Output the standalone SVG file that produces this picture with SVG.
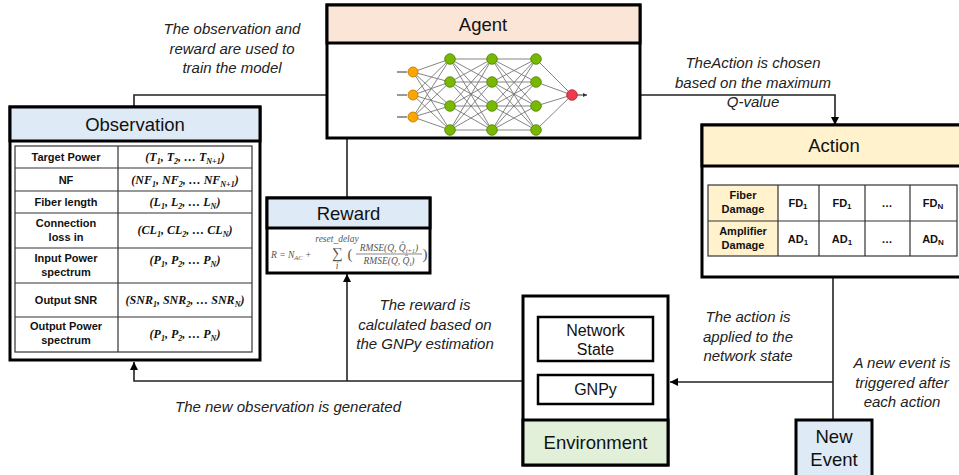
<svg xmlns="http://www.w3.org/2000/svg" width="959" height="475" viewBox="0 0 959 475">
<defs>
<marker id="ah" viewBox="0 0 10 10" refX="10" refY="5" markerWidth="10" markerHeight="8" markerUnits="userSpaceOnUse" orient="auto"><path d="M0,0 L10,5 L0,10 z" fill="#000"/></marker>
<marker id="sah" viewBox="0 0 10 10" refX="10" refY="5" markerWidth="5" markerHeight="4" markerUnits="userSpaceOnUse" orient="auto"><path d="M0,0 L10,5 L0,10 z" fill="#333"/></marker>
</defs>
<style>
.box{fill:#fff;stroke:#000;stroke-width:3}
.lbl{font-family:"Liberation Sans",Arial,sans-serif;font-size:18.5px;fill:#111;text-anchor:middle}
.lbs{font-family:"Liberation Sans",Arial,sans-serif;font-size:16px;fill:#111;text-anchor:middle}
.it{font-family:"Liberation Sans",Arial,sans-serif;font-style:italic;font-size:15px;fill:#222;text-anchor:middle}
.tl{font-family:"Liberation Sans",Arial,sans-serif;font-weight:bold;font-size:11px;fill:#111;text-anchor:middle}
.m{font-family:"Liberation Serif","Times New Roman",serif;font-style:italic;font-weight:bold;font-size:12px;fill:#111;text-anchor:middle}
.s{font-size:8px}
.cell{fill:none;stroke:#333;stroke-width:1.2}
.conn{fill:none;stroke:#222;stroke-width:1.6}
.nn{fill:none;stroke:#777;stroke-width:0.9}
.g{fill:#76b900;stroke:#4f7d00;stroke-width:0.8}
.o{fill:#ffa500;stroke:#b87400;stroke-width:0.8}
.r{fill:#f2384c;stroke:#a8202f;stroke-width:0.8}
.f{font-family:"Liberation Serif","Times New Roman",serif;font-style:italic;font-size:9.5px;fill:#555}
</style>

<g id="connectors">
<path class="conn" d="M134 107 V95 H386" marker-end="url(#ah)"/>
<path class="conn" d="M347 198 V95"/>
<path class="conn" d="M597 95 H835 V125" marker-end="url(#ah)"/>
<path class="conn" d="M833 277 V420" stroke="#444"/>
<path class="conn" d="M833 382 H670" marker-end="url(#ah)"/>
<path class="conn" d="M523 381 H134 V362" marker-end="url(#ah)"/>
<path class="conn" d="M347 381 V274" marker-end="url(#ah)"/>
</g>

<g id="agent">
<rect class="box" x="327" y="5" width="313" height="133"/>
<rect class="box" x="327" y="5" width="313" height="38" style="fill:#fbe5d6"/>
<text class="lbl" x="483" y="31">Agent</text>
<g id="nnet">
<path class="nn" d="M413 72L450 59M413 72L450 82M413 72L450 106M413 72L450 130M413 95L450 59M413 95L450 82M413 95L450 106M413 95L450 130M413 117L450 59M413 117L450 82M413 117L450 106M413 117L450 130
M450 59L492 59M450 59L492 82M450 59L492 106M450 59L492 130M450 82L492 59M450 82L492 82M450 82L492 106M450 82L492 130M450 106L492 59M450 106L492 82M450 106L492 106M450 106L492 130M450 130L492 59M450 130L492 82M450 130L492 106M450 130L492 130
M492 59L536 59M492 59L536 82M492 59L536 106M492 59L536 130M492 82L536 59M492 82L536 82M492 82L536 106M492 82L536 130M492 106L536 59M492 106L536 82M492 106L536 106M492 106L536 130M492 130L536 59M492 130L536 82M492 130L536 106M492 130L536 130
M536 59L572 95M536 82L572 95M536 106L572 95M536 130L572 95"/>
<path d="M397 72H407M397 95H407M397 117H407M577 95H587" stroke="#333" stroke-width="1" marker-end="url(#sah)"/>
<circle class="o" cx="413" cy="72" r="5"/><circle class="o" cx="413" cy="95" r="5"/><circle class="o" cx="413" cy="117" r="5"/>
<circle class="g" cx="450" cy="59" r="5.3"/><circle class="g" cx="450" cy="82" r="5.3"/><circle class="g" cx="450" cy="106" r="5.3"/><circle class="g" cx="450" cy="130" r="5.3"/>
<circle class="g" cx="492" cy="59" r="5.3"/><circle class="g" cx="492" cy="82" r="5.3"/><circle class="g" cx="492" cy="106" r="5.3"/><circle class="g" cx="492" cy="130" r="5.3"/>
<circle class="g" cx="536" cy="59" r="5.3"/><circle class="g" cx="536" cy="82" r="5.3"/><circle class="g" cx="536" cy="106" r="5.3"/><circle class="g" cx="536" cy="130" r="5.3"/>
<circle class="r" cx="572" cy="95" r="5.3"/>
</g>
</g>

<g id="observation">
<rect class="box" x="10" y="107" width="250" height="253"/>
<rect class="box" x="10" y="107" width="250" height="34" style="fill:#deebf7"/>
<text class="lbl" x="135" y="131">Observation</text>
<rect class="cell" x="15" y="146" width="237" height="206"/>
<path class="cell" d="M118 146V352M15 168H252M15 191H252M15 213H252M15 248H252M15 283H252M15 317H252"/>
<text class="tl" x="66" y="161">Target Power</text>
<text class="tl" x="66" y="184">NF</text>
<text class="tl" x="66" y="206">Fiber length</text>
<text class="tl" x="66" y="227">Connection</text><text class="tl" x="66" y="241">loss in</text>
<text class="tl" x="66" y="262">Input Power</text><text class="tl" x="66" y="276">spectrum</text>
<text class="tl" x="66" y="304">Output SNR</text>
<text class="tl" x="66" y="330">Output Power</text><text class="tl" x="66" y="344">spectrum</text>
<text class="m" x="185" y="161">(T<tspan class="s" dy="2.5">1</tspan><tspan dy="-2.5">, T</tspan><tspan class="s" dy="2.5">2</tspan><tspan dy="-2.5">, … T</tspan><tspan class="s" dy="2.5">N+1</tspan><tspan dy="-2.5">)</tspan></text>
<text class="m" x="185" y="184">(NF<tspan class="s" dy="2.5">1</tspan><tspan dy="-2.5">, NF</tspan><tspan class="s" dy="2.5">2</tspan><tspan dy="-2.5">, … NF</tspan><tspan class="s" dy="2.5">N+1</tspan><tspan dy="-2.5">)</tspan></text>
<text class="m" x="185" y="206">(L<tspan class="s" dy="2.5">1</tspan><tspan dy="-2.5">, L</tspan><tspan class="s" dy="2.5">2</tspan><tspan dy="-2.5">, … L</tspan><tspan class="s" dy="2.5">N</tspan><tspan dy="-2.5">)</tspan></text>
<text class="m" x="185" y="234">(CL<tspan class="s" dy="2.5">1</tspan><tspan dy="-2.5">, CL</tspan><tspan class="s" dy="2.5">2</tspan><tspan dy="-2.5">, … CL</tspan><tspan class="s" dy="2.5">N</tspan><tspan dy="-2.5">)</tspan></text>
<text class="m" x="185" y="264">(P<tspan class="s" dy="2.5">1</tspan><tspan dy="-2.5">, P</tspan><tspan class="s" dy="2.5">2</tspan><tspan dy="-2.5">, … P</tspan><tspan class="s" dy="2.5">N</tspan><tspan dy="-2.5">)</tspan></text>
<text class="m" x="185" y="304">(SNR<tspan class="s" dy="2.5">1</tspan><tspan dy="-2.5">, SNR</tspan><tspan class="s" dy="2.5">2</tspan><tspan dy="-2.5">, … SNR</tspan><tspan class="s" dy="2.5">N</tspan><tspan dy="-2.5">)</tspan></text>
<text class="m" x="185" y="338">(P<tspan class="s" dy="2.5">1</tspan><tspan dy="-2.5">, P</tspan><tspan class="s" dy="2.5">2</tspan><tspan dy="-2.5">, … P</tspan><tspan class="s" dy="2.5">N</tspan><tspan dy="-2.5">)</tspan></text>
</g>

<g id="reward">
<rect class="box" x="267" y="198" width="163" height="75"/>
<rect class="box" x="267" y="198" width="163" height="30" style="fill:#deebf7"/>
<text class="lbl" x="348.5" y="220">Reward</text>
<text class="f" x="271" y="258">R = N<tspan font-size="6.5" dy="2">AC</tspan><tspan dy="-2"> +</tspan></text>
<text x="337" y="258" font-family="Liberation Serif,serif" font-size="15" fill="#555" text-anchor="middle">∑</text>
<text class="f" x="337" y="242" font-size="5.5" text-anchor="middle">reset_delay</text>
<text class="f" x="337" y="269" font-size="5.5" text-anchor="middle">i</text>
<text x="350" y="259" font-family="Liberation Serif,serif" font-size="15" fill="#555" text-anchor="middle">(</text>
<text class="f" x="389" y="251" text-anchor="middle">RMSE(Q, Q̂<tspan font-size="6.5" dy="2">i+1</tspan><tspan dy="-2">)</tspan></text>
<line x1="356" y1="254" x2="422" y2="254" stroke="#555" stroke-width="0.7"/>
<text class="f" x="389" y="264" text-anchor="middle">RMSE(Q, Q̂<tspan font-size="6.5" dy="2">i</tspan><tspan dy="-2">)</tspan></text>
<text x="425" y="259" font-family="Liberation Serif,serif" font-size="15" fill="#555" text-anchor="middle">)</text>
</g>

<g id="action">
<rect class="box" x="702" y="125" width="262" height="152"/>
<rect class="box" x="702" y="125" width="262" height="41" style="fill:#fff2cc"/>
<text class="lbl" x="834" y="152">Action</text>
<rect x="708" y="185" width="70" height="71" fill="#fff2cc"/>
<rect class="cell" x="708" y="185" width="249" height="71"/>
<path class="cell" d="M708 221H957M778 185V256M819 185V256M865 185V256M910 185V256"/>
<text class="tl" x="743" y="199">Fiber</text><text class="tl" x="743" y="213">Damage</text>
<text class="tl" x="743" y="235">Amplifier</text><text class="tl" x="743" y="249">Damage</text>
<text class="tl" x="798" y="207">FD<tspan class="s" font-size="7" dy="2">1</tspan></text>
<text class="tl" x="842" y="207">FD<tspan class="s" font-size="7" dy="2">1</tspan></text>
<text class="tl" x="887" y="207">…</text>
<text class="tl" x="933" y="207">FD<tspan class="s" font-size="7" dy="2">N</tspan></text>
<text class="tl" x="798" y="243">AD<tspan class="s" font-size="7" dy="2">1</tspan></text>
<text class="tl" x="842" y="243">AD<tspan class="s" font-size="7" dy="2">1</tspan></text>
<text class="tl" x="887" y="243">…</text>
<text class="tl" x="933" y="243">AD<tspan class="s" font-size="7" dy="2">N</tspan></text>
</g>

<g id="environment">
<rect class="box" x="523" y="296" width="145" height="169"/>
<rect class="box" x="523" y="420" width="145" height="45" style="fill:#e2f0d9"/>
<text class="lbl" x="595.5" y="449" font-size="17.5">Environment</text>
<g id="network-state">
<rect x="538" y="317" width="115" height="44" fill="#fff" stroke="#000" stroke-width="2.5"/>
<text class="lbs" x="595.5" y="336">Network</text><text class="lbs" x="595.5" y="355">State</text>
</g>
<g id="gnpy">
<rect x="538" y="375" width="115" height="29" fill="#fff" stroke="#000" stroke-width="2.5"/>
<text class="lbs" x="595.5" y="395">GNPy</text>
</g>
</g>

<g id="new-event">
<rect class="box" x="796" y="420" width="76" height="62" style="fill:#deebf7"/>
<text class="lbl" x="834" y="443" font-size="17.5">New</text>
<text class="lbl" x="834" y="466" font-size="17.5">Event</text>
</g>

<g id="labels">
<text class="it" x="232" y="34">The observation and</text>
<text class="it" x="232" y="54">reward are used to</text>
<text class="it" x="232" y="73">train the model</text>
<text class="it" x="753" y="68">TheAction is chosen</text>
<text class="it" x="753" y="88">based on the maximum</text>
<text class="it" x="753" y="107">Q-value</text>
<text class="it" x="425" y="310">The reward is</text>
<text class="it" x="425" y="330">calculated based on</text>
<text class="it" x="425" y="349">the GNPy estimation</text>
<text class="it" x="288" y="412">The new observation is generated</text>
<text class="it" x="748" y="322">The action is</text>
<text class="it" x="748" y="342">applied to the</text>
<text class="it" x="748" y="361">network state</text>
<text class="it" x="902" y="368">A new event is</text>
<text class="it" x="902" y="388">triggered after</text>
<text class="it" x="902" y="407">each action</text>
</g>
</svg>
